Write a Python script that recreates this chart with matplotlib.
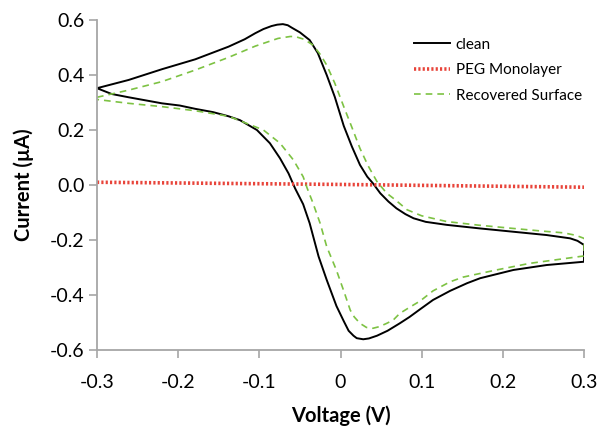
import matplotlib
matplotlib.use("Agg")
import matplotlib.pyplot as plt

plt.rcParams["font.family"] = ["Lato", "DejaVu Sans"]
plt.rcParams["axes.unicode_minus"] = False

# clean electrode, forward scan (V increasing)
clean_fwd_v = [-0.30, -0.261, -0.220, -0.179, -0.138, -0.118, -0.105, -0.095, -0.085, -0.078,
               -0.071, -0.065, -0.060, -0.050, -0.038, -0.028, -0.017, -0.007, 0.004, 0.014,
               0.024, 0.033, 0.040, 0.049, 0.059, 0.069, 0.080, 0.090, 0.105, 0.131,
               0.172, 0.213, 0.254, 0.283, 0.292, 0.30]
clean_fwd_i = [0.352, 0.382, 0.421, 0.457, 0.503, 0.530, 0.552, 0.567, 0.578, 0.583,
               0.585, 0.581, 0.572, 0.555, 0.527, 0.480, 0.400, 0.320, 0.215, 0.140,
               0.073, 0.030, 0.006, -0.030, -0.060, -0.085, -0.106, -0.121, -0.134, -0.145,
               -0.158, -0.170, -0.182, -0.194, -0.203, -0.218]
# clean electrode, reverse scan (V decreasing)
clean_rev_v = [0.30, 0.254, 0.213, 0.172, 0.156, 0.135, 0.114, 0.098, 0.085, 0.073,
               0.058, 0.045, 0.035, 0.028, 0.020, 0.016, 0.010, 0.004, -0.005, -0.017,
               -0.027, -0.038, -0.046, -0.056, -0.064, -0.0745, -0.087, -0.103, -0.124, -0.138,
               -0.157, -0.179, -0.198, -0.220, -0.261, -0.282, -0.30]
clean_rev_i = [-0.279, -0.291, -0.309, -0.339, -0.357, -0.385, -0.418, -0.452, -0.480, -0.503,
               -0.530, -0.548, -0.558, -0.561, -0.557, -0.548, -0.530, -0.495, -0.440, -0.345,
               -0.260, -0.139, -0.070, -0.012, 0.042, 0.097, 0.152, 0.200, 0.236, 0.250,
               0.265, 0.277, 0.289, 0.297, 0.319, 0.331, 0.352]

# recovered surface, forward scan
rec_fwd_v = [-0.30, -0.261, -0.220, -0.179, -0.138, -0.105, -0.077, -0.062, -0.056, -0.045,
             -0.034, -0.025, -0.017, -0.007, 0.004, 0.014, 0.024, 0.034, 0.045, 0.057,
             0.068, 0.082, 0.100, 0.131, 0.170, 0.213, 0.250, 0.275, 0.290, 0.30]
rec_fwd_i = [0.319, 0.345, 0.376, 0.418, 0.464, 0.505, 0.533, 0.540, 0.540, 0.530,
             0.509, 0.475, 0.436, 0.370, 0.285, 0.210, 0.133, 0.070, 0.012, -0.030,
             -0.055, -0.090, -0.112, -0.133, -0.146, -0.158, -0.168, -0.174, -0.183, -0.194]
# recovered surface, reverse scan
rec_rev_v = [0.30, 0.233, 0.192, 0.151, 0.135, 0.114, 0.098, 0.085, 0.073, 0.065,
             0.057, 0.048, 0.040, 0.032, 0.024, 0.017, 0.012, 0.004, -0.005, -0.017,
             -0.025, -0.034, -0.041, -0.046, -0.058, -0.0745, -0.095, -0.1156, -0.138, -0.179,
             -0.220, -0.261, -0.30]
rec_rev_i = [-0.258, -0.285, -0.309, -0.335, -0.352, -0.385, -0.422, -0.445, -0.467, -0.491,
             -0.503, -0.515, -0.521, -0.518, -0.503, -0.480, -0.455, -0.385, -0.310, -0.224,
             -0.140, -0.065, -0.012, 0.030, 0.091, 0.152, 0.200, 0.224, 0.250, 0.270,
             0.285, 0.297, 0.311]

# PEG monolayer (almost flat)
peg_v = [-0.30, -0.15, 0.0, 0.15, 0.30]
peg_i = [0.010, 0.006, 0.002, -0.003, -0.008]

x_ticks = [-0.3, -0.2, -0.1, 0.0, 0.1, 0.2, 0.3]
x_labels = ["-0.3", "-0.2", "-0.1", "0", "0.1", "0.2", "0.3"]
y_ticks = [-0.6, -0.4, -0.2, 0.0, 0.2, 0.4, 0.6]

fig = plt.figure(figsize=(5.97, 4.28), dpi=100)
ax = fig.add_axes([97 / 597, 1 - 350 / 428, 487 / 597, 330 / 428])

ax.plot(clean_fwd_v + clean_rev_v, clean_fwd_i + clean_rev_i,
        color="black", lw=1.4, label="clean")
ax.plot(peg_v, peg_i, color="#E8443A", lw=2.6, linestyle=(0, (0.6, 0.6)),
        label="PEG Monolayer")
ax.plot(rec_fwd_v + rec_rev_v, rec_fwd_i + rec_rev_i,
        color="#7DC243", lw=1.2, linestyle=(0, (4, 3)), label="Recovered Surface")

ax.set_xlim(-0.3, 0.3)
ax.set_ylim(-0.6, 0.6)
ax.set_xticks(x_ticks)
ax.set_xticklabels(x_labels)
ax.set_yticks(y_ticks)
ax.set_yticklabels([f"{t:.1f}" for t in y_ticks])

for s in ["top", "right"]:
    ax.spines[s].set_visible(False)
for s in ["left", "bottom"]:
    ax.spines[s].set_color("#A6A6A6")
    ax.spines[s].set_linewidth(1.3)
ax.tick_params(axis="both", direction="out", length=6, width=1.2, color="#A6A6A6",
               labelsize=14, labelcolor="black")
ax.tick_params(axis="x", pad=11)
ax.tick_params(axis="y", pad=3)

ax.set_xlabel("Voltage (V)", fontsize=14.5, fontweight="bold")
ax.set_ylabel("Current (\u00b5A)", fontsize=14.5, fontweight="bold")
ax.xaxis.set_label_coords(0.5, -0.168)
ax.yaxis.set_label_coords(-0.13, 0.5)

ax.legend(loc="upper left", bbox_to_anchor=(0.638, 0.965), frameon=False, fontsize=11,
          handlelength=2.35, handletextpad=0.4, labelspacing=0.75, borderaxespad=0)

fig.savefig("out.png", dpi=100)
